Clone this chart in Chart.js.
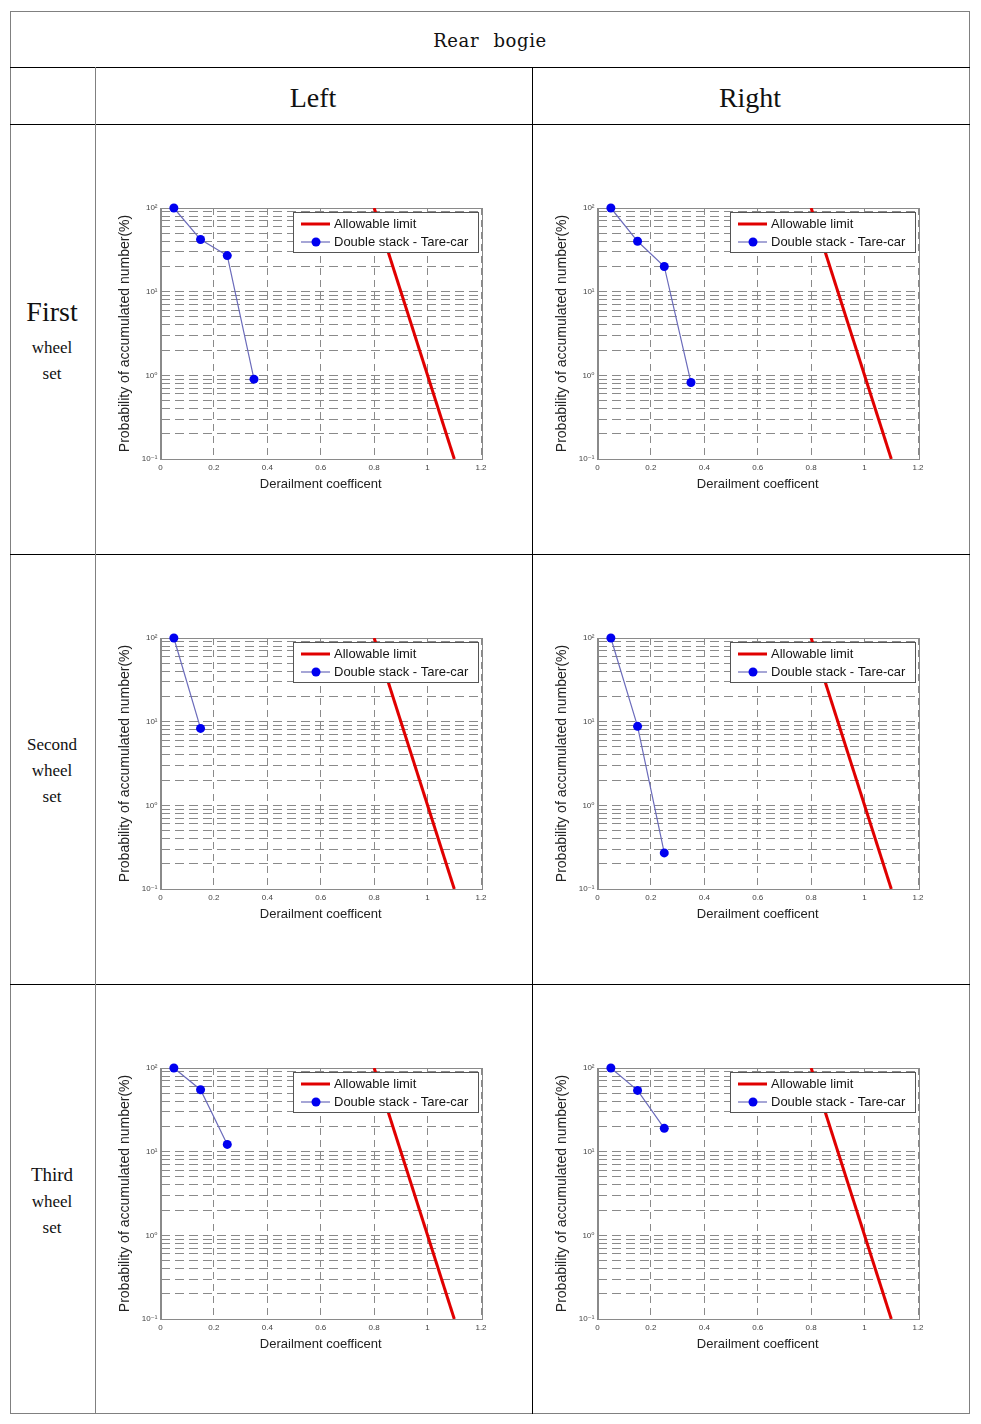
<!DOCTYPE html>
<html><head><meta charset="utf-8">
<script src="https://cdn.jsdelivr.net/npm/chart.js@4.4.0/dist/chart.umd.min.js"></script>
<style>
html,body{margin:0;padding:0;background:#fff;}
#page{position:relative;width:981px;height:1424px;overflow:hidden;background:#fff;}
.ln{position:absolute;background:#000;}
.tx{position:absolute;text-align:center;font-family:"Liberation Serif","Times New Roman",serif;color:#111;white-space:nowrap;}
canvas.c{position:absolute;}
</style></head><body><div id="page"></div>
<script>
// ---- data ----
const tableTitle = 'Rear bogie';
const columnNames = ['Left', 'Right'];
const rowLabels = [['First', 'wheel', 'set'], ['Second', 'wheel', 'set'], ['Third', 'wheel', 'set']];
const seriesNames = ['Allowable limit', 'Double stack - Tare-car'];
const xTitle = 'Derailment coefficent';
const yTitle = 'Probability of accumulated number(%)';

const xTickValues = [0, 0.2, 0.4, 0.6, 0.8, 1.0, 1.2];
const xTickLabels = ['0', '0.2', '0.4', '0.6', '0.8', '1', '1.2'];
const yMajorValues = [0.1, 1, 10, 100];
const yMajorLabels = ['10\u207B\u00B9', '10\u2070', '10\u00B9', '10\u00B2'];
const yGridValues = [0.1, 0.2, 0.3, 0.4, 0.5, 0.6, 0.7, 0.8, 0.9,
                     1, 2, 3, 4, 5, 6, 7, 8, 9,
                     10, 20, 30, 40, 50, 60, 70, 80, 90, 100];

const limitX = [0.8, 1.1];
const limitY = [100, 0.1];

const coefX = [0.05, 0.15, 0.25, 0.35];
const firstLeftY = [100, 42, 27, 0.9];
const firstRightY = [100, 40, 20, 0.82];
const secondLeftY = [100, 8.3];
const secondRightY = [100, 8.8, 0.27];
const thirdLeftY = [100, 55, 12.2];
const thirdRightY = [100, 54, 19];

const panelValues = [[firstLeftY, firstRightY], [secondLeftY, secondRightY], [thirdLeftY, thirdRightY]];

// ---- layout ----
const page = document.getElementById('page');
function line(x, y, w, h, color) {
  const d = document.createElement('div');
  d.className = 'ln';
  d.style.left = x + 'px'; d.style.top = y + 'px';
  d.style.width = w + 'px'; d.style.height = h + 'px';
  d.style.background = color;
  page.appendChild(d);
}
function text(str, cx, cy, size, w, extra) {
  const d = document.createElement('div');
  d.className = 'tx';
  d.textContent = str;
  const lh = Math.round(size * 1.2);
  d.style.fontSize = size + 'px';
  d.style.lineHeight = lh + 'px';
  d.style.width = w + 'px';
  d.style.left = (cx - w / 2) + 'px';
  d.style.top = (cy - lh / 2) + 'px';
  if (extra) Object.assign(d.style, extra);
  page.appendChild(d);
}

// outer frame
line(10, 11, 960, 1, '#808080');
line(10, 1413, 960, 1, '#808080');
line(10, 11, 1, 1403, '#808080');
line(969, 11, 1, 1403, '#808080');
// inner lines
line(10, 67, 960, 1, '#000');
line(10, 124, 960, 1, '#000');
line(10, 554, 960, 1, '#000');
line(10, 984, 960, 1, '#000');
line(95, 67, 1, 1347, '#808080');
line(532, 67, 1, 1347, '#000');

text(tableTitle, 490, 41, 18, 300, {fontFamily: '"DejaVu Serif", serif', letterSpacing: '0.6px', wordSpacing: '8px', fontWeight: '300'});
text(columnNames[0], 313, 98, 28, 300);
text(columnNames[1], 750, 98, 28, 300);

const rowLabelPos = [
  [[312, 28], [348, 17], [374, 17]],
  [[745, 17], [771, 17], [797, 17]],
  [[1174, 19], [1202, 17], [1228, 17]]
];
rowLabels.forEach((lines, r) => {
  lines.forEach((s, k) => text(s, 52, rowLabelPos[r][k][0], rowLabelPos[r][k][1], 84));
});

// ---- charts ----
const framePlugin = {
  id: 'frame',
  beforeDatasetsDraw(chart) {
    const {ctx, chartArea: a} = chart;
    ctx.save();
    ctx.strokeStyle = '#8a8a8a';
    ctx.lineWidth = 1;
    ctx.strokeRect(Math.round(a.left) + 0.5, Math.round(a.top) + 0.5, Math.round(a.right - a.left), Math.round(a.bottom - a.top));
    ctx.restore();
  }
};
const legendPlugin = {
  id: 'boxLegend',
  afterDraw(chart) {
    const {ctx, chartArea: a} = chart;
    const w = 185, h = 40;
    const x = Math.round(a.right - 3 - w), y = Math.round(a.top + 4);
    ctx.save();
    ctx.fillStyle = '#fff';
    ctx.fillRect(x, y, w, h);
    ctx.strokeStyle = '#555';
    ctx.lineWidth = 1;
    ctx.strokeRect(x + 0.5, y + 0.5, w, h);
    chart.data.datasets.forEach((ds, i) => {
      const cy = y + 12 + i * 18;
      ctx.strokeStyle = ds.borderColor;
      ctx.lineWidth = ds.borderWidth;
      ctx.beginPath();
      ctx.moveTo(x + 8, cy);
      ctx.lineTo(x + 37, cy);
      ctx.stroke();
      if (ds.pointRadius > 0) {
        ctx.fillStyle = ds.pointBackgroundColor;
        ctx.beginPath();
        ctx.arc(x + 23, cy, ds.pointRadius, 0, Math.PI * 2);
        ctx.fill();
      }
      ctx.fillStyle = '#151515';
      ctx.font = '13px "Liberation Sans", Arial, sans-serif';
      ctx.textBaseline = 'middle';
      ctx.textAlign = 'left';
      ctx.fillText(ds.label, x + 41, cy + 0.5);
    });
    ctx.restore();
  }
};

function makeChart(left, top, yVals) {
  const cv = document.createElement('canvas');
  cv.className = 'c';
  cv.width = 435; cv.height = 428;
  cv.style.left = left + 'px'; cv.style.top = top + 'px';
  cv.style.width = '435px'; cv.style.height = '428px';
  page.appendChild(cv);
  const pts = yVals.map((v, i) => ({x: coefX[i], y: v}));
  const lim = limitX.map((x, i) => ({x: x, y: limitY[i]}));
  return new Chart(cv, {
    type: 'scatter',
    data: {datasets: [
      {label: seriesNames[0], data: lim, showLine: true, borderColor: '#e00000', borderWidth: 3,
       pointRadius: 0, pointHoverRadius: 0},
      {label: seriesNames[1], data: pts, showLine: true, borderColor: '#6b6bbb', borderWidth: 1.2,
       pointRadius: 4.5, pointHoverRadius: 4.5, pointBackgroundColor: '#0000f0', pointBorderColor: '#0000f0',
       pointBorderWidth: 0, clip: false}
    ]},
    options: {
      responsive: false, animation: false, events: [],
      layout: {padding: {left: 20.6, right: 50, top: 83, bottom: 61.2}},
      plugins: {legend: {display: false}, tooltip: {enabled: false}},
      scales: {
        x: {
          type: 'linear', min: 0, max: 1.2,
          afterBuildTicks: s => { s.ticks = xTickValues.map(v => ({value: v})); },
          afterFit: s => { s.height = 32.8; },
          ticks: {autoSkip: false, maxRotation: 0, padding: 4, color: '#444',
                  font: {family: '"Liberation Sans", Arial, sans-serif', size: 8},
                  callback: (v, i) => xTickLabels[i]},
          grid: {color: '#8a8a8a', lineWidth: 1, drawTicks: false},
          border: {display: true, color: '#8a8a8a', width: 1, dash: [7, 5]},
          title: {display: true, text: xTitle, color: '#222', padding: 0,
                  font: {family: '"Liberation Sans", Arial, sans-serif', size: 13}}
        },
        y: {
          type: 'logarithmic', min: 0.1, max: 100,
          afterBuildTicks: s => { s.ticks = yGridValues.map(v => ({value: v})); },
          afterFit: s => { s.width = 43.9; },
          ticks: {autoSkip: false, padding: 3, color: '#444',
                  font: {family: '"Liberation Sans", "DejaVu Sans", Arial, sans-serif', size: 8},
                  callback: v => {
                    const k = yMajorValues.findIndex(m => Math.abs(m - v) / m < 1e-6);
                    return k >= 0 ? yMajorLabels[k] : '';
                  }},
          grid: {color: '#8a8a8a', lineWidth: 1, drawTicks: false},
          border: {display: true, color: '#8a8a8a', width: 1, dash: [9, 5]},
          title: {display: true, text: yTitle, color: '#222', padding: 0,
                  font: {family: '"Liberation Sans", Arial, sans-serif', size: 14}}
        }
      }
    },
    plugins: [framePlugin, legendPlugin]
  });
}

const rowTops = [125, 555, 985];
const colLefts = [96, 533];
panelValues.forEach((pair, r) => {
  pair.forEach((vals, c) => makeChart(colLefts[c], rowTops[r], vals));
});
</script>
</body></html>
